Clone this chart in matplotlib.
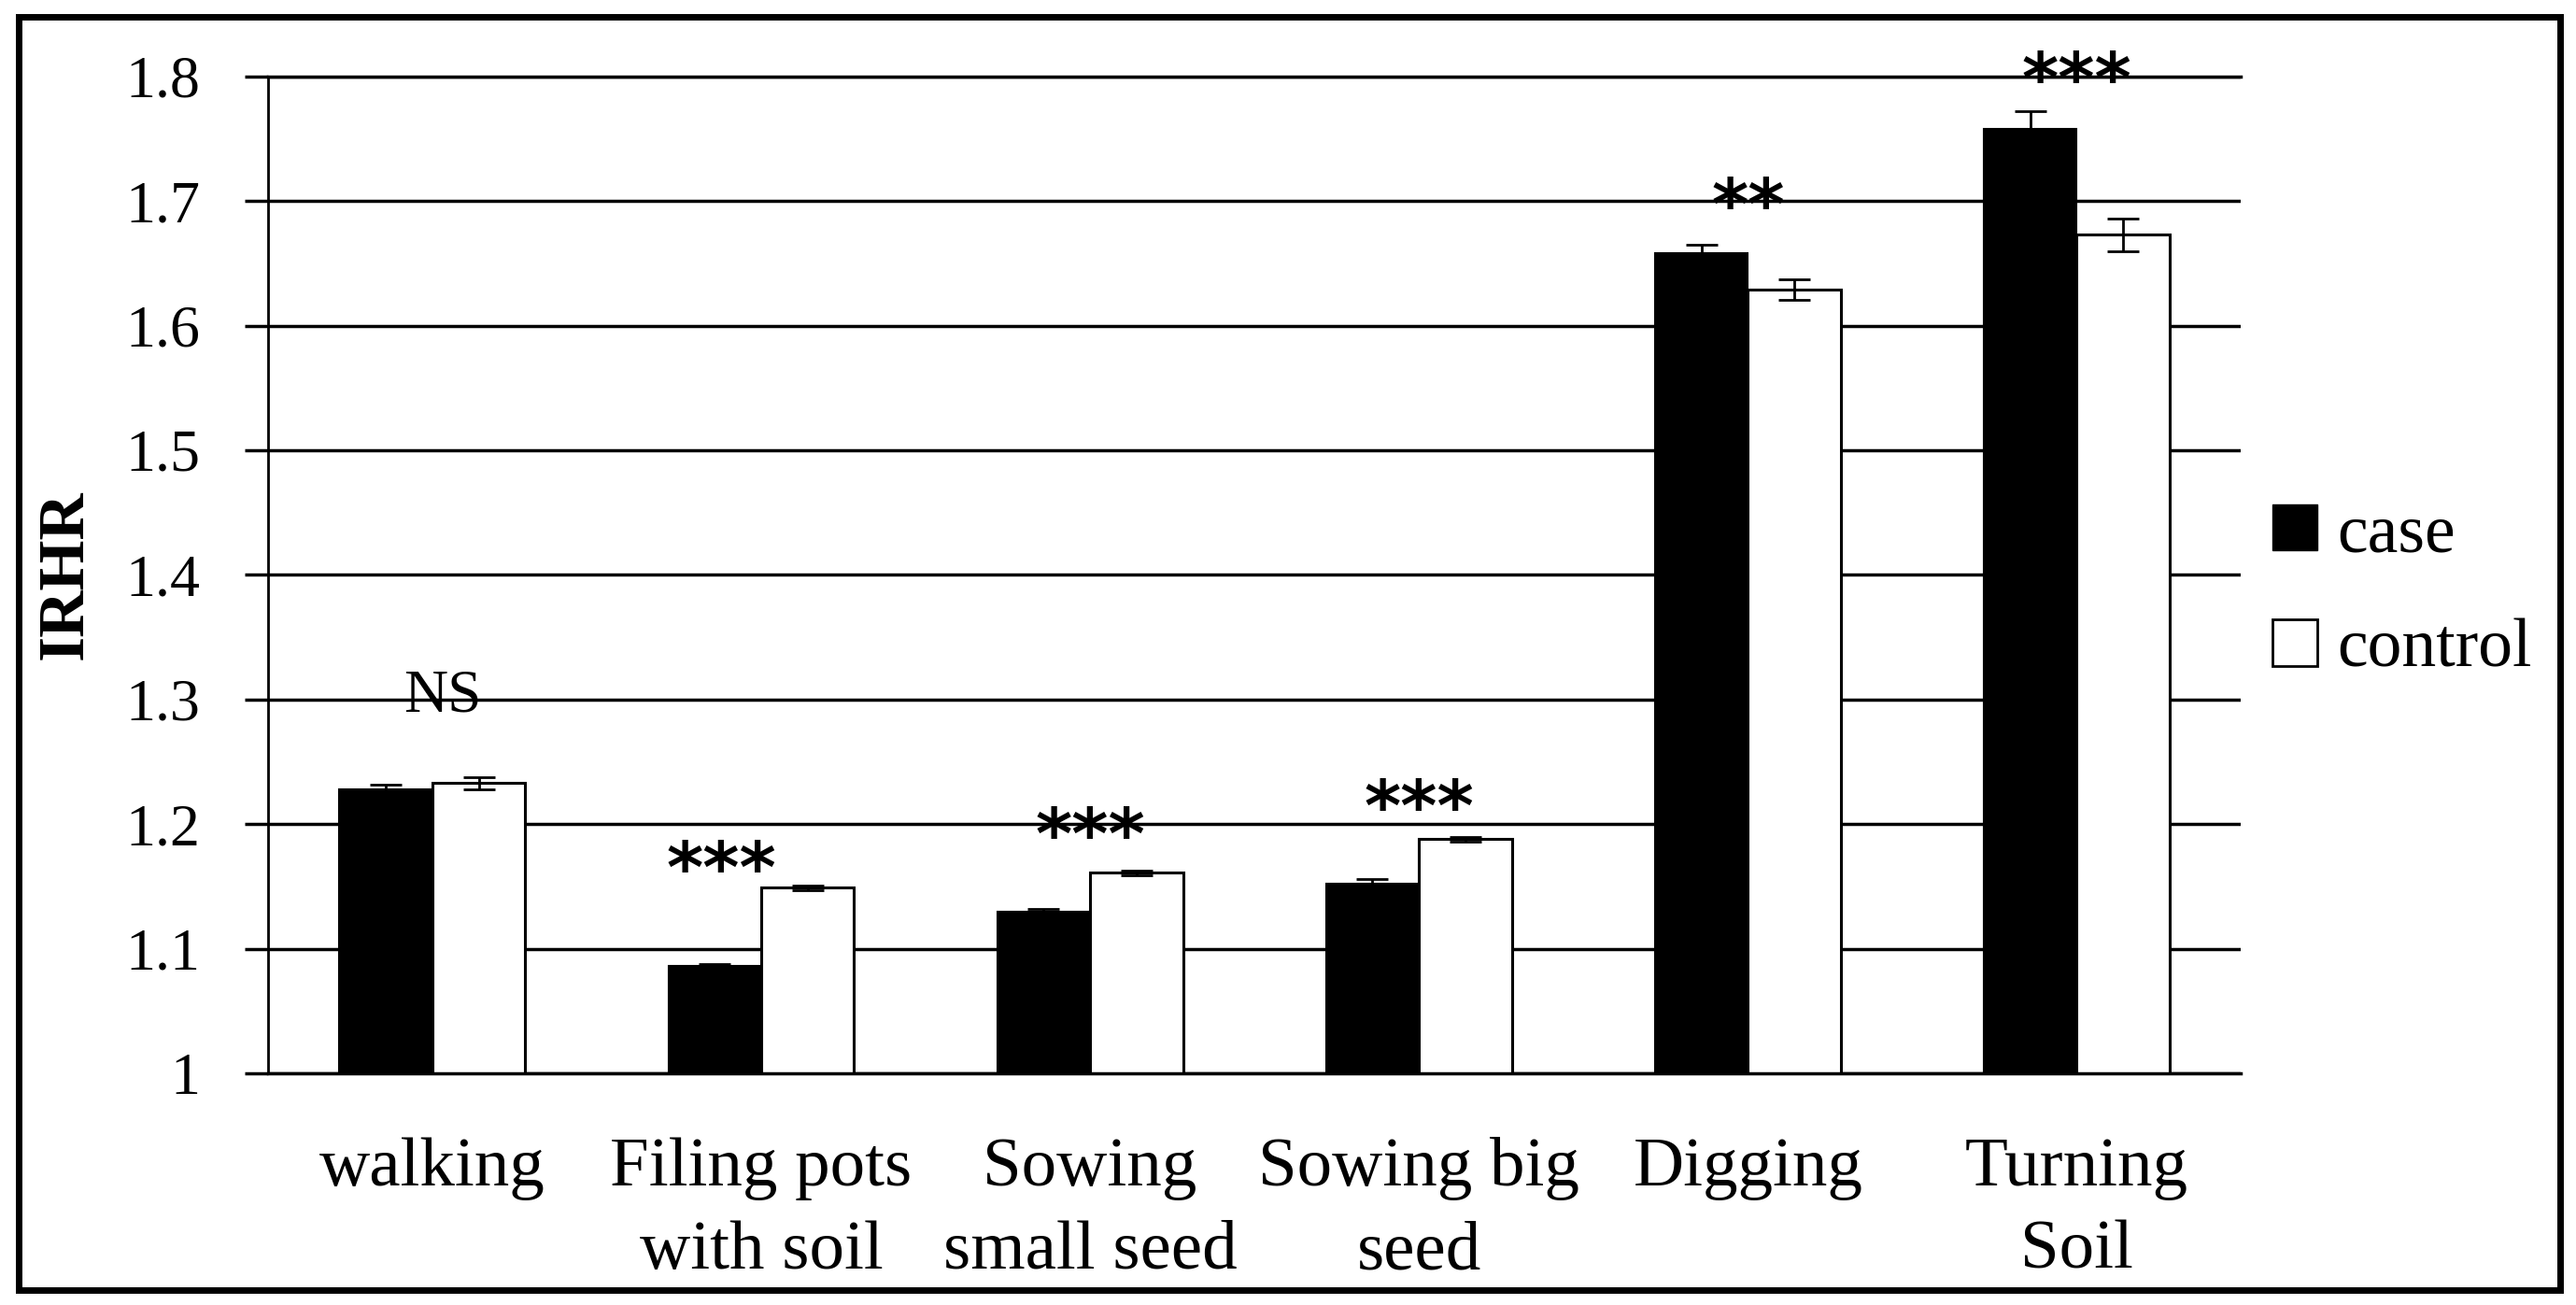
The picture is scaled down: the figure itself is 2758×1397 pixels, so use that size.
import matplotlib
matplotlib.use("Agg")
import matplotlib.pyplot as plt
from matplotlib.patches import Patch, Rectangle
import numpy as np

# data
categories = ["walking", "Filing pots\nwith soil", "Sowing\nsmall seed",
              "Sowing big\nseed", "Digging", "Turning\nSoil"]
case_vals = [1.228, 1.086, 1.130, 1.152, 1.658, 1.758]
case_err = [0.004, 0.002, 0.002, 0.004, 0.007, 0.014]
control_vals = [1.233, 1.149, 1.161, 1.188, 1.629, 1.673]
control_err = [0.005, 0.002, 0.002, 0.002, 0.008, 0.013]
sig_labels = ["NS", "***", "***", "***", "**", "***"]
sig_heights = [1.302, 1.161, 1.188, 1.210, 1.693, 1.794]
y_ticks = [1.0, 1.1, 1.2, 1.3, 1.4, 1.5, 1.6, 1.7, 1.8]
y_ticklabels = ["1", "1.1", "1.2", "1.3", "1.4", "1.5", "1.6", "1.7", "1.8"]

SERIF = ["Liberation Serif", "DejaVu Serif"]
plt.rcParams["font.family"] = SERIF

fig = plt.figure(figsize=(27.58, 13.97), dpi=100)
ax = fig.add_axes([0.104, 0.1775, 0.766, 0.764])

x = np.arange(len(categories))
width = 0.2825

ax.bar(x - width / 2, case_vals, width, color="black", edgecolor="black", linewidth=1.5, zorder=2)
ax.bar(x + width / 2, control_vals, width, color="white", edgecolor="black", linewidth=2.2, zorder=2)
ax.errorbar(x - width / 2, case_vals, yerr=case_err, fmt="none", ecolor="black",
            elinewidth=2, capsize=12, capthick=2, zorder=3)
ax.errorbar(x + width / 2, control_vals, yerr=control_err, fmt="none", ecolor="black",
            elinewidth=2, capsize=12, capthick=2, zorder=3)

# significance markers above each group
for i, (lab, h) in enumerate(zip(sig_labels, sig_heights)):
    if lab == "NS":
        ax.text(i + 0.03, h, lab, ha="center", va="center", fontsize=47, family=SERIF, zorder=4)
    else:
        dx = -0.12 if i == 1 else 0
        ax.text(i + dx, h, lab, ha="center", va="center", fontsize=54,
                fontweight="bold", family="DejaVu Sans", zorder=4)

ax.set_xlim(-0.5, len(categories) - 0.5)
ax.set_ylim(1.0, 1.8)
ax.set_yticks(y_ticks)
ax.set_yticklabels(y_ticklabels)
ax.set_xticks(x)
ax.set_xticklabels(categories, linespacing=1.42)

ax.tick_params(axis="y", labelsize=46, length=18, width=2.5, pad=34, color="black")
ax.tick_params(axis="x", labelsize=54, length=0, pad=49)

ax.yaxis.grid(True, color="black", linewidth=2.5)
ax.set_axisbelow(True)
ax.spines["right"].set_visible(False)
ax.spines["left"].set_linewidth(2)
ax.spines["top"].set_linewidth(2.5)
ax.spines["bottom"].set_linewidth(2.5)

ax.set_ylabel("IRHR", fontsize=50, fontweight="bold")
ax.yaxis.set_label_coords(-0.087, 0.5)

handles = [Patch(facecolor="black", edgecolor="black", label="case"),
           Patch(facecolor="white", edgecolor="black", linewidth=2, label="control")]
fig.legend(handles=handles, loc="center left", bbox_to_anchor=(0.882, 0.546),
           bbox_transform=fig.transFigure, frameon=False, fontsize=53,
           handlelength=0.66, handleheight=0.66, handletextpad=0.28,
           labelspacing=0.76, borderpad=0, borderaxespad=0)

# outer border around the whole figure
fig.patches.append(Rectangle((0.0073, 0.0115), 0.9866, 0.9757, transform=fig.transFigure,
                             fill=False, edgecolor="black", linewidth=5))

fig.savefig("out.png", dpi=100)
